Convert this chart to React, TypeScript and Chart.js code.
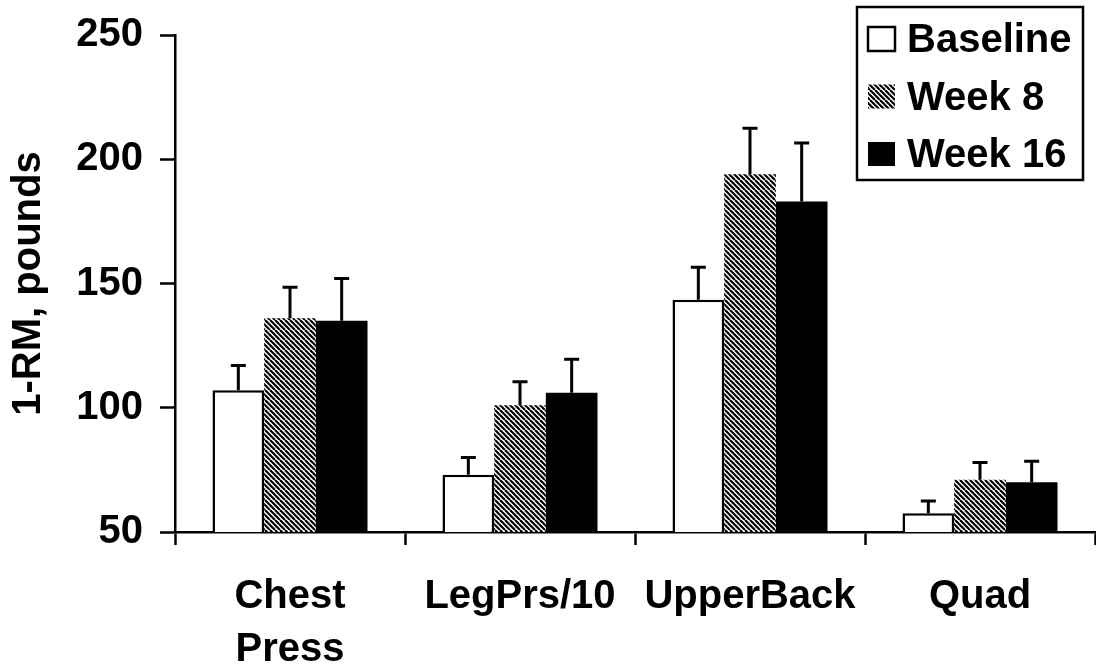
import React, { useEffect, useRef } from "react";
import { Chart, registerables } from "chart.js";

Chart.register(...registerables);

// ---- data ----
const categories: (string | string[])[] = [["Chest", "Press"], "LegPrs/10", "UpperBack", "Quad"];
const seriesNames = ["Baseline", "Week 8", "Week 16"];
const baselineValues = [107, 73, 143.5, 57.5];
const week8Values = [136, 101, 194, 71];
const week16Values = [135, 106, 183, 70];
const baselineErrors = [10, 7, 13, 5];
const week8Errors = [12.5, 9.5, 18.5, 7];
const week16Errors = [17, 13.5, 23.5, 8.5];
const yTickValues = [50, 100, 150, 200, 250];
const yTitle = "1-RM, pounds";

const FONT = "'Liberation Sans', Arial, Helvetica, sans-serif";
const FS = 40;

function makeHatch(): CanvasPattern | string {
  const c = document.createElement("canvas");
  const s = 10;
  c.width = s;
  c.height = s;
  const g = c.getContext("2d");
  if (!g) return "#777";
  g.fillStyle = "#ffffff";
  g.fillRect(0, 0, s, s);
  g.strokeStyle = "#000000";
  g.lineWidth = 2.2;
  for (let o = -s; o <= s; o += 5) {
    g.beginPath();
    g.moveTo(o, 0);
    g.lineTo(o + s, s);
    g.stroke();
  }
  const p = g.createPattern(c, "repeat");
  return p || "#777";
}

const errorBarPlugin = {
  id: "errorBars",
  afterDatasetsDraw(chart: any) {
    const ctx = chart.ctx;
    const yScale = chart.scales.y;
    chart.data.datasets.forEach((ds: any, i: number) => {
      const meta = chart.getDatasetMeta(i);
      const errs: number[] = ds.errors || [];
      meta.data.forEach((bar: any, j: number) => {
        const v = ds.data[j];
        const e = errs[j];
        if (v == null || e == null) return;
        const x = bar.x;
        const yTop = yScale.getPixelForValue(v);
        const yErr = yScale.getPixelForValue(v + e);
        ctx.save();
        ctx.strokeStyle = "#000";
        ctx.lineWidth = 3;
        ctx.beginPath();
        ctx.moveTo(x, yTop);
        ctx.lineTo(x, yErr);
        ctx.moveTo(x - 7.5, yErr);
        ctx.lineTo(x + 7.5, yErr);
        ctx.stroke();
        ctx.restore();
      });
    });
  },
};

const boxLegendPlugin = {
  id: "boxLegend",
  afterDraw(chart: any) {
    const ctx = chart.ctx;
    const right = chart.chartArea.right - 12;
    const left = right - 226;
    const top = 7;
    const bottom = 180;
    ctx.save();
    ctx.strokeStyle = "#000";
    ctx.lineWidth = 2.5;
    ctx.strokeRect(left, top, right - left, bottom - top);
    ctx.font = `bold ${FS}px ${FONT}`;
    ctx.textBaseline = "middle";
    ctx.textAlign = "left";
    chart.data.datasets.forEach((ds: any, i: number) => {
      const cy = top + 32 + i * 57.5;
      const mx = left + 11;
      const mw = 27;
      const mh = 24;
      if (i === 0) {
        ctx.fillStyle = "#fff";
        ctx.fillRect(mx, cy - mh / 2, mw, mh);
        ctx.lineWidth = 2.5;
        ctx.strokeRect(mx, cy - mh / 2, mw, mh);
      } else {
        ctx.fillStyle = ds.backgroundColor;
        ctx.fillRect(mx, cy - mh / 2, mw, mh);
      }
      ctx.fillStyle = "#000";
      ctx.fillText(ds.label, left + 50, cy + 2);
    });
    ctx.restore();
  },
};

export default function App() {
  const ref = useRef<HTMLCanvasElement | null>(null);

  useEffect(() => {
    if (!ref.current) return;
    const hatch = makeHatch();
    const chart = new Chart(ref.current, {
      type: "bar",
      data: {
        labels: categories as any,
        datasets: [
          {
            label: seriesNames[0],
            data: baselineValues,
            backgroundColor: "#ffffff",
            borderColor: "#000000",
            borderWidth: 2.5,
            errors: baselineErrors,
          } as any,
          {
            label: seriesNames[1],
            data: week8Values,
            backgroundColor: hatch as any,
            borderWidth: 0,
            errors: week8Errors,
          } as any,
          {
            label: seriesNames[2],
            data: week16Values,
            backgroundColor: "#000000",
            borderWidth: 0,
            errors: week16Errors,
          } as any,
        ],
      },
      options: {
        animation: false,
        responsive: true,
        maintainAspectRatio: false,
        layout: { padding: { top: 35, right: 1, left: 0, bottom: 0 } },
        plugins: {
          legend: { display: false },
          tooltip: { enabled: false },
        },
        datasets: {
          bar: { barPercentage: 1, categoryPercentage: 0.674 },
        },
        scales: {
          x: {
            offset: true,
            grid: {
              offset: true,
              drawOnChartArea: false,
              drawTicks: true,
              tickLength: 13,
              tickColor: "#000",
              tickWidth: 2.5,
            },
            border: { display: true, color: "#000", width: 2.5 },
            ticks: {
              color: "#000",
              padding: 25,
              maxRotation: 0,
              font: { family: FONT, size: FS, weight: "bold", lineHeight: 1.33 },
            },
            afterFit: (scale: any) => {
              scale.height = 135;
            },
          },
          y: {
            min: 50,
            max: 250,
            afterBuildTicks: (scale: any) => {
              scale.ticks = yTickValues.map((v) => ({ value: v }));
            },
            grid: {
              drawOnChartArea: false,
              drawTicks: true,
              tickLength: 15,
              tickColor: "#000",
              tickWidth: 2.5,
            },
            border: { display: true, color: "#000", width: 2.5 },
            ticks: {
              color: "#000",
              padding: 17,
              font: { family: FONT, size: FS, weight: "bold", lineHeight: 0.8 },
            },
            title: {
              display: true,
              text: yTitle,
              color: "#000",
              padding: { top: 5, bottom: 0 },
              font: { family: FONT, size: FS, weight: "bold", lineHeight: 1.2 },
            },
            afterFit: (scale: any) => {
              scale.width = 175;
            },
          },
        },
      },
      plugins: [errorBarPlugin, boxLegendPlugin],
    });
    return () => chart.destroy();
  }, []);

  return (
    <div style={{ position: "fixed", left: 0, top: 0, width: 1096, height: 667, background: "#fff" }}>
      <canvas ref={ref} />
    </div>
  );
}
